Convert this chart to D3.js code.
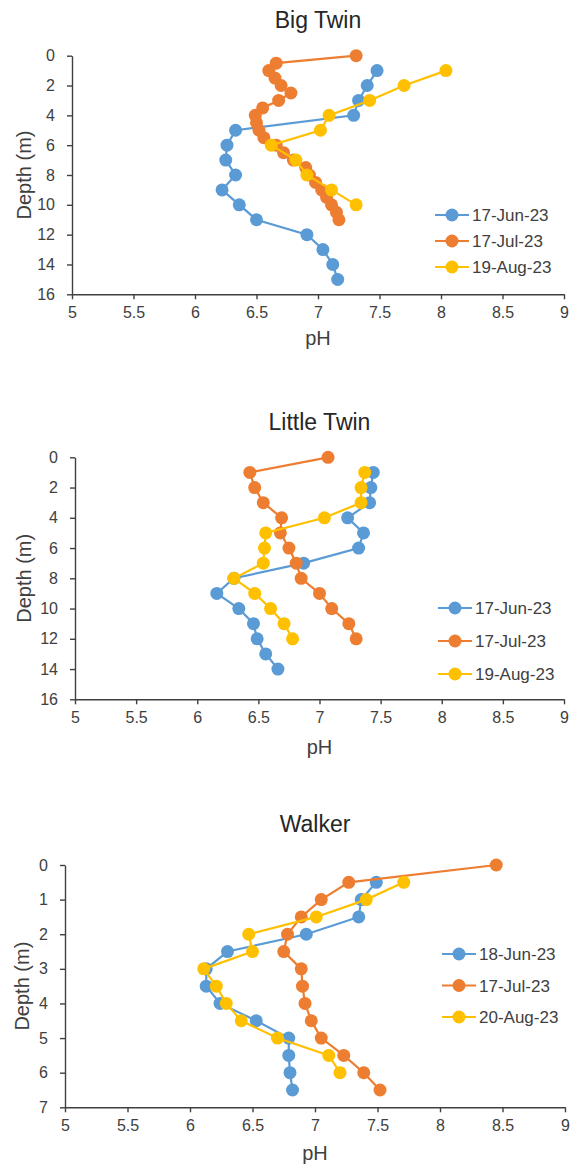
<!DOCTYPE html>
<html>
<head>
<meta charset="utf-8">
<script src="https://cdn.jsdelivr.net/npm/d3@7"></script>
<style>
body { margin: 0; background: #fff; }
svg { display: block; font-family: "Liberation Sans", Arial, sans-serif; }
.axis path, .axis line { stroke: #404040; stroke-width: 1.4; }
.axis text { font-size: 16px; fill: #404040; font-family: "Liberation Sans", Arial, sans-serif; }
.title { font-size: 23px; fill: #262626; }
.axis-label { font-size: 20px; fill: #404040; }
.legend text { font-size: 17px; fill: #404040; }
</style>
</head>
<body>
<svg id="chart" width="571" height="1165"></svg>
<script>
// ---- data ----
var colors = ["#5B9BD5", "#ED7D31", "#FFC000"];
var xTicks = [5, 5.5, 6, 6.5, 7, 7.5, 8, 8.5, 9];

// Big Twin
var bigTwinSeries = ["17-Jun-23", "17-Jul-23", "19-Aug-23"];
var bigTwinJunDepth = [1, 2, 3, 4, 5, 6, 7, 8, 9, 10, 11, 12, 13, 14, 15];
var bigTwinJunPH = [7.48, 7.40, 7.33, 7.29, 6.33, 6.26, 6.25, 6.33, 6.22, 6.36, 6.50, 6.91, 7.04, 7.12, 7.16];
var bigTwinJulDepth = [0, 0.5, 1, 1.5, 2, 2.5, 3, 3.5, 4, 4.5, 5, 5.5, 6, 6.5, 7, 7.5, 8, 8.5, 9, 9.5, 10, 10.5, 11];
var bigTwinJulPH = [7.31, 6.66, 6.60, 6.65, 6.70, 6.78, 6.68, 6.55, 6.49, 6.50, 6.52, 6.56, 6.66, 6.72, 6.80, 6.90, 6.93, 6.98, 7.03, 7.07, 7.11, 7.15, 7.17];
var bigTwinAugDepth = [1, 2, 3, 4, 5, 6, 7, 8, 9, 10];
var bigTwinAugPH = [8.04, 7.70, 7.42, 7.09, 7.02, 6.62, 6.82, 6.91, 7.11, 7.31];
var bigTwinDepthTicks = [0, 2, 4, 6, 8, 10, 12, 14, 16];

// Little Twin
var littleTwinSeries = ["17-Jun-23", "17-Jul-23", "19-Aug-23"];
var littleTwinJunDepth = [1, 2, 3, 4, 5, 6, 7, 8, 9, 10, 11, 12, 13, 14];
var littleTwinJunPH = [7.44, 7.42, 7.41, 7.23, 7.36, 7.32, 6.87, 6.30, 6.16, 6.34, 6.46, 6.49, 6.56, 6.66];
var littleTwinJulDepth = [0, 1, 2, 3, 4, 5, 6, 7, 8, 9, 10, 11, 12];
var littleTwinJulPH = [7.07, 6.43, 6.47, 6.54, 6.69, 6.68, 6.75, 6.81, 6.85, 7.00, 7.10, 7.24, 7.30];
var littleTwinAugDepth = [1, 2, 3, 4, 5, 6, 7, 8, 9, 10, 11, 12];
var littleTwinAugPH = [7.37, 7.34, 7.34, 7.04, 6.56, 6.55, 6.54, 6.30, 6.47, 6.60, 6.71, 6.78];
var littleTwinDepthTicks = [0, 2, 4, 6, 8, 10, 12, 14, 16];

// Walker
var walkerSeries = ["18-Jun-23", "17-Jul-23", "20-Aug-23"];
var walkerJunDepth = [0.5, 1, 1.5, 2, 2.5, 3, 3.5, 4, 4.5, 5, 5.5, 6, 6.5];
var walkerJunPH = [7.49, 7.37, 7.35, 6.93, 6.30, 6.13, 6.13, 6.24, 6.53, 6.79, 6.79, 6.80, 6.82];
var walkerJulDepth = [0, 0.5, 1, 1.5, 2, 2.5, 3, 3.5, 4, 4.5, 5, 5.5, 6, 6.5];
var walkerJulPH = [8.45, 7.27, 7.05, 6.89, 6.78, 6.75, 6.89, 6.90, 6.92, 6.97, 7.05, 7.23, 7.39, 7.52];
var walkerAugDepth = [0.5, 1, 1.5, 2, 2.5, 3, 3.5, 4, 4.5, 5, 5.5, 6];
var walkerAugPH = [7.71, 7.41, 7.01, 6.47, 6.50, 6.11, 6.21, 6.29, 6.41, 6.70, 7.11, 7.20];
var walkerDepthTicks = [0, 1, 2, 3, 4, 5, 6, 7];

function zipSeries(depths, phs) {
  return depths.map(function(d, i) { return {depth: d, ph: phs[i]}; });
}

// ---- layout per panel ----
var panels = [
  {title: "Big Twin", names: bigTwinSeries, yTicks: bigTwinDepthTicks,
   series: [zipSeries(bigTwinJunDepth, bigTwinJunPH), zipSeries(bigTwinJulDepth, bigTwinJulPH), zipSeries(bigTwinAugDepth, bigTwinAugPH)],
   left: 72, right: 564, top: 55.7, bottom: 294.3, titleY: 28, phY: 345, depthX: 31,
   legX: 435, legY: 215, legGap: 26},
  {title: "Little Twin", names: littleTwinSeries, yTicks: littleTwinDepthTicks,
   series: [zipSeries(littleTwinJunDepth, littleTwinJunPH), zipSeries(littleTwinJulDepth, littleTwinJulPH), zipSeries(littleTwinAugDepth, littleTwinAugPH)],
   left: 75, right: 564, top: 457.3, bottom: 699.3, titleY: 430, phY: 754, depthX: 31,
   legX: 438, legY: 608, legGap: 33},
  {title: "Walker", names: walkerSeries, yTicks: walkerDepthTicks,
   series: [zipSeries(walkerJunDepth, walkerJunPH), zipSeries(walkerJulDepth, walkerJulPH), zipSeries(walkerAugDepth, walkerAugPH)],
   left: 65, right: 565, top: 865, bottom: 1107.3, titleY: 832, phY: 1160, depthX: 29,
   legX: 442, legY: 954, legGap: 31.5}
];

var svg = d3.select("#chart");

panels.forEach(function(p) {
  var g = svg.append("g");
  var x = d3.scaleLinear().domain([5, 9]).range([p.left, p.right]);
  var y = d3.scaleLinear().domain([0, d3.max(p.yTicks)]).range([p.top, p.bottom]);

  g.append("g")
    .attr("class", "axis")
    .attr("transform", "translate(0," + p.bottom + ")")
    .call(d3.axisBottom(x).tickValues(xTicks).tickFormat(d3.format("")).tickSize(5).tickSizeOuter(0).tickPadding(7));

  g.append("g")
    .attr("class", "axis")
    .attr("transform", "translate(" + p.left + ",0)")
    .call(d3.axisLeft(y).tickValues(p.yTicks).tickFormat(d3.format("")).tickSize(5).tickSizeOuter(0).tickPadding(12));

  g.append("text").attr("class", "title")
    .attr("x", (p.left + p.right) / 2).attr("y", p.titleY)
    .attr("text-anchor", "middle").text(p.title);

  g.append("text").attr("class", "axis-label")
    .attr("x", (p.left + p.right) / 2).attr("y", p.phY)
    .attr("text-anchor", "middle").text("pH");

  g.append("text").attr("class", "axis-label")
    .attr("transform", "translate(" + p.depthX + "," + (p.top + p.bottom) / 2 + ") rotate(-90)")
    .attr("text-anchor", "middle").text("Depth (m)");

  var line = d3.line().x(function(d) { return x(d.ph); }).y(function(d) { return y(d.depth); });

  p.series.forEach(function(s, i) {
    g.append("path")
      .datum(s)
      .attr("d", line)
      .attr("fill", "none")
      .attr("stroke", colors[i])
      .attr("stroke-width", 2.2);
    g.selectAll(".pt" + i)
      .data(s)
      .enter()
      .append("circle")
      .attr("cx", function(d) { return x(d.ph); })
      .attr("cy", function(d) { return y(d.depth); })
      .attr("r", 6.5)
      .attr("fill", colors[i]);
  });

  // legend
  var leg = g.append("g").attr("class", "legend");
  p.names.forEach(function(name, i) {
    var ly = p.legY + i * p.legGap;
    leg.append("line")
      .attr("x1", p.legX).attr("x2", p.legX + 34)
      .attr("y1", ly).attr("y2", ly)
      .attr("stroke", colors[i]).attr("stroke-width", 2.2);
    leg.append("circle")
      .attr("cx", p.legX + 17).attr("cy", ly).attr("r", 6.5)
      .attr("fill", colors[i]);
    leg.append("text")
      .attr("x", p.legX + 37).attr("y", ly + 6)
      .text(name);
  });
});
</script>
</body>
</html>
